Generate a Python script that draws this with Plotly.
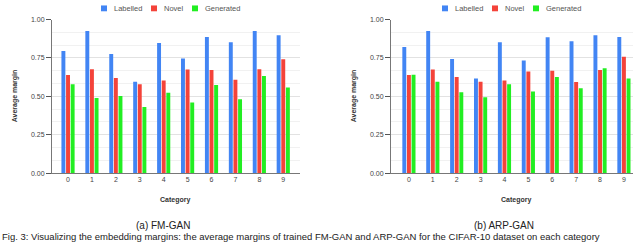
import plotly.graph_objects as go

categories = ["0", "1", "2", "3", "4", "5", "6", "7", "8", "9"]
series_names = ["Labelled", "Novel", "Generated"]
colors = ["#4285f4", "#f4433a", "#22ee22"]

fm_labelled = [0.795, 0.926, 0.776, 0.595, 0.848, 0.747, 0.886, 0.852, 0.926, 0.897]
fm_novel = [0.639, 0.677, 0.620, 0.578, 0.603, 0.675, 0.671, 0.608, 0.677, 0.741]
fm_generated = [0.578, 0.489, 0.502, 0.430, 0.523, 0.460, 0.574, 0.481, 0.633, 0.557]

arp_labelled = [0.821, 0.926, 0.743, 0.616, 0.852, 0.734, 0.884, 0.859, 0.897, 0.886]
arp_novel = [0.639, 0.675, 0.625, 0.595, 0.603, 0.662, 0.667, 0.593, 0.671, 0.757]
arp_generated = [0.641, 0.595, 0.527, 0.494, 0.578, 0.532, 0.625, 0.553, 0.682, 0.616]

y_ticks = [0, 0.25, 0.5, 0.75, 1.0]
titles = ["(a) FM-GAN", "(b) ARP-GAN"]
caption = ("Fig. 3: Visualizing the embedding margins: the average margins of trained "
           "FM-GAN and ARP-GAN for the CIFAR-10 dataset on each category")

W, H = 640, 247
FONT = "Liberation Sans, Arial, sans-serif"


def px(x):
    return x / W


def py(y):
    return 1 - y / H


fig = go.Figure()
panels = [
    ("x", "y", [fm_labelled, fm_novel, fm_generated]),
    ("x2", "y2", [arp_labelled, arp_novel, arp_generated]),
]
for xa, ya, data in panels:
    for name, vals, col in zip(series_names, data, colors):
        fig.add_trace(go.Bar(x=categories, y=vals, name=name, marker_color=col,
                             marker_line_width=0, xaxis=xa, yaxis=ya,
                             showlegend=False))

axis_common_y = dict(
    range=[0, 1], tickvals=y_ticks, tickformat=".2f",
    ticks="outside", ticklen=5, tickcolor="#555", tickwidth=1,
    showline=True, linecolor="#777", linewidth=1,
    gridcolor="#e2e2e2", gridwidth=1, zeroline=False,
    tickfont=dict(size=7, color="#444", family=FONT),
    minor=dict(dtick=0.25 / 3, showgrid=True, gridcolor="#f1f1f1", ticks=""),
    fixedrange=True,
)
axis_common_x = dict(
    type="category", showline=True, linecolor="#777", linewidth=1,
    showgrid=False, ticks="", tickfont=dict(size=7, color="#444", family=FONT),
    fixedrange=True,
)

fig.update_layout(
    width=W, height=H, margin=dict(l=0, r=0, t=0, b=0),
    paper_bgcolor="white", plot_bgcolor="white",
    barmode="group", bargap=0.42, bargroupgap=0.15,
    font=dict(family=FONT),
    xaxis=dict(domain=[px(52), px(300)], range=[-0.67, 9.7], anchor="y", **axis_common_x),
    yaxis=dict(domain=[py(174), py(16)], anchor="x", **axis_common_y),
    xaxis2=dict(domain=[px(391), px(633)], range=[-0.75, 9.38], anchor="y2", **axis_common_x),
    yaxis2=dict(domain=[py(174), py(16)], anchor="x2", **axis_common_y),
)

annotations = []
shapes = []
offsets = [0, 341]
legend_sq = [101, 151, 192]
legend_tx = [112, 162, 203]
for i, off in enumerate(offsets):
    for name, col, sx, tx in zip(series_names, colors, legend_sq, legend_tx):
        shapes.append(dict(type="rect", xref="paper", yref="paper",
                           x0=px(sx + off), x1=px(sx + off + 6),
                           y0=py(7.5), y1=py(1.5), fillcolor=col, line_width=0))
        annotations.append(dict(x=px(tx + off), y=py(4.5), xref="paper", yref="paper",
                                text=name, showarrow=False, xanchor="left", yanchor="middle",
                                font=dict(size=7.5, color="#555", family=FONT)))
    annotations.append(dict(x=px(15 + off - (2 if i else 0)), y=py(95), xref="paper", yref="paper",
                            text="<b>Average margin</b>", textangle=-90, showarrow=False,
                            xanchor="center", yanchor="middle",
                            font=dict(size=7, color="#333", family=FONT)))
    annotations.append(dict(x=px(175 + off), y=py(202), xref="paper", yref="paper",
                            text="<b>Category</b>", showarrow=False,
                            xanchor="center", yanchor="middle",
                            font=dict(size=7, color="#333", family=FONT)))
    annotations.append(dict(x=px(163 + off), y=py(228), xref="paper", yref="paper",
                            text=titles[i], showarrow=False,
                            xanchor="center", yanchor="middle",
                            font=dict(size=10, color="#222", family=FONT)))

annotations.append(dict(x=0, y=0, xref="paper", yref="paper",
                        text=caption, showarrow=False, xanchor="left", yanchor="bottom",
                        font=dict(size=9.5, color="#222", family=FONT)))

fig.update_layout(annotations=annotations, shapes=shapes)
fig.write_html("out.html", config={"displayModeBar": False, "staticPlot": True})

with open("out.html", "r", encoding="utf-8") as f:
    html = f.read()
html = html.replace("<head>", "<head><style>html,body{margin:0;padding:0;overflow:hidden;}</style>", 1)
with open("out.html", "w", encoding="utf-8") as f:
    f.write(html)
